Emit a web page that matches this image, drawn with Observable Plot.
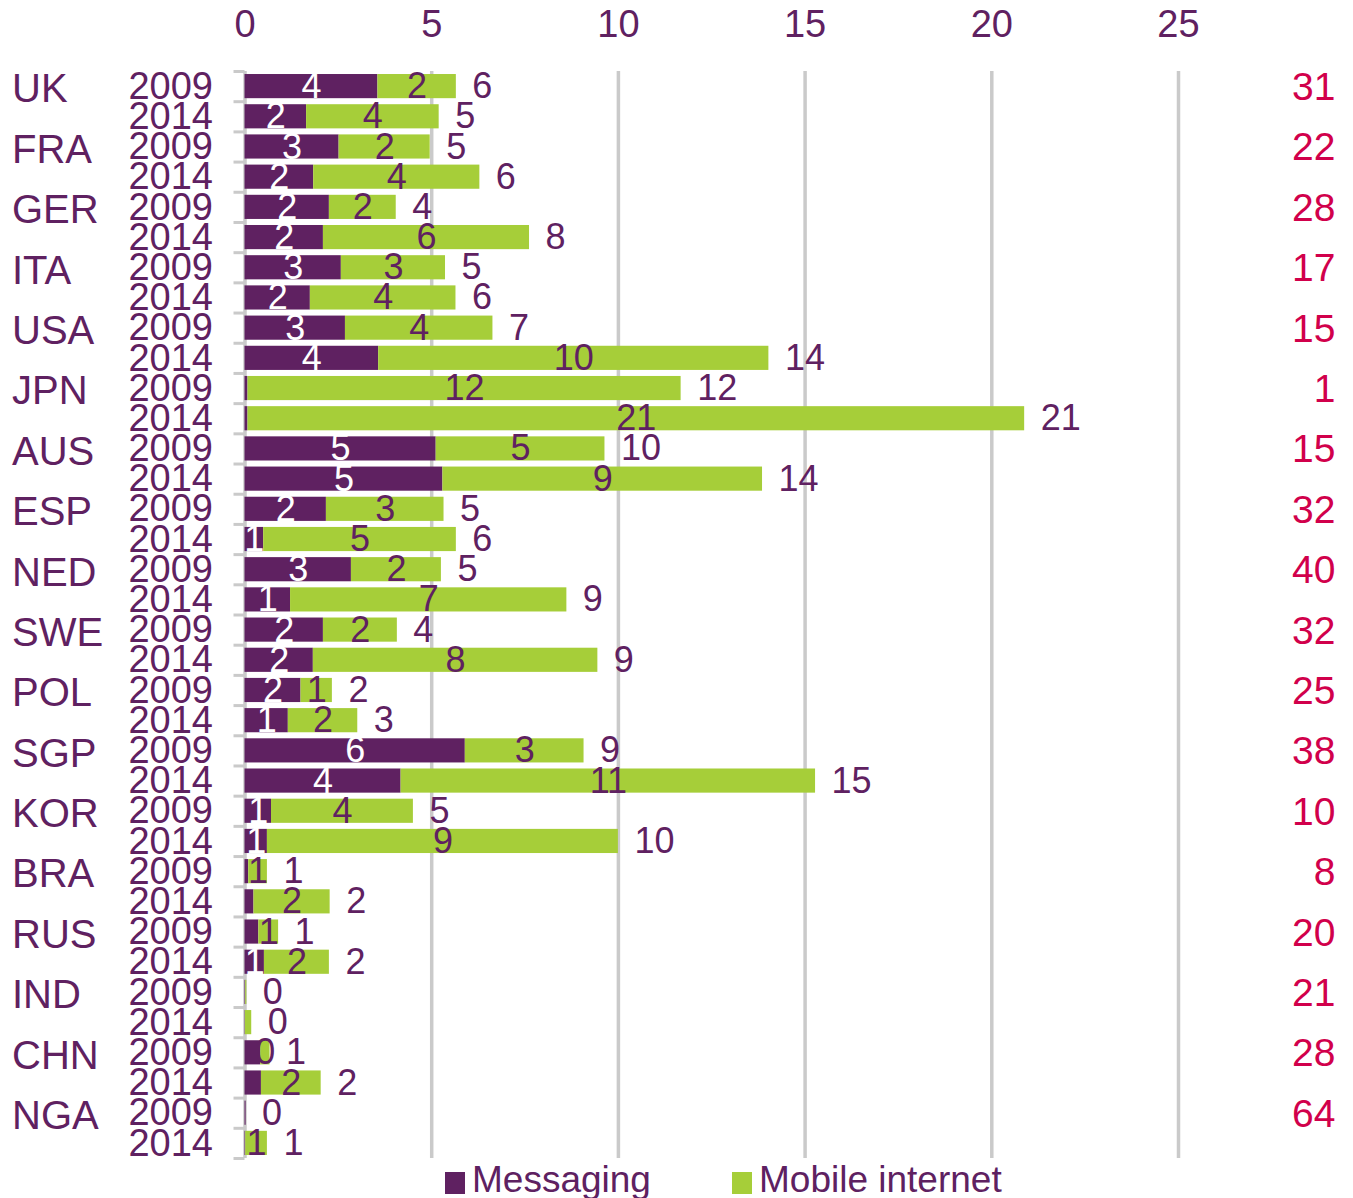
<!DOCTYPE html>
<html>
<head>
<meta charset="utf-8">
<script src="https://cdn.jsdelivr.net/npm/d3@7"></script>
<script src="https://cdn.jsdelivr.net/npm/@observablehq/plot@0.6"></script>
<style>
  html, body { margin: 0; padding: 0; background: #fff; }
  #wrap { position: relative; width: 1353px; font-family: "Liberation Sans", Arial, sans-serif; color: #5E2161; }
  #legend { position: relative; height: 36px; width: 1353px; }
  .lg { position: absolute; top: 0; display: flex; align-items: center; font-size: 37px; line-height: 36px; height: 36px; white-space: nowrap; }
  .sw { width: 20px; height: 22px; margin-right: 7px; margin-top: 6px; }
</style>
</head>
<body>
<div id="wrap">
  <div id="chart"></div>
  <div id="legend"></div>
</div>
<script>
// ---- data ----
const countries = ["UK","FRA","GER","ITA","USA","JPN","AUS","ESP","NED","SWE","POL","SGP","KOR","BRA","RUS","IND","CHN","NGA"];
const years = ["2009","2014"];
const seriesNames = ["Messaging","Mobile internet"];
const messaging2009 = [3.56, 2.52, 2.26, 2.58, 2.69, 0.08, 5.12, 2.18, 2.85, 2.10, 1.50, 5.90, 0.71, 0.10, 0.37, 0.02, 0.42, 0.03];
const mobile2009    = [2.10, 2.44, 1.79, 2.79, 3.95, 11.6, 4.52, 3.15, 2.41, 1.98, 0.84, 3.18, 3.80, 0.50, 0.53, 0.03, 0.25, 0.00];
const messaging2014 = [1.65, 1.84, 2.10, 1.75, 3.58, 0.08, 5.30, 0.50, 1.22, 1.83, 1.16, 4.18, 0.60, 0.24, 0.52, 0.01, 0.44, 0.02];
const mobile2014    = [3.55, 4.45, 5.52, 3.90, 10.45, 20.8, 8.56, 5.16, 7.40, 7.62, 1.86, 11.1, 9.40, 2.04, 1.74, 0.17, 1.60, 0.58];
const rightValues   = [31, 22, 28, 17, 15, 1, 15, 32, 40, 32, 25, 38, 10, 8, 20, 21, 28, 64];
const xTicks = [0, 5, 10, 15, 20, 25];

// ---- styling ----
const purple = "#5F2161";
const green = "#A6CE39";
const red = "#D1004B";
const gridColor = "#CACACA";
const W = 1353, H = 1162, MT = 71, MB = 4, ML = 244.5, MR = 175;

// ---- build tables ----
const rows = [];
countries.forEach((c, i) => {
  rows.push({country: c, year: years[0], key: c + " " + years[0], m: messaging2009[i], g: mobile2009[i]});
  rows.push({country: c, year: years[1], key: c + " " + years[1], m: messaging2014[i], g: mobile2014[i]});
});
rows.forEach(r => r.total = r.m + r.g);
const long = rows.flatMap(r => [
  {key: r.key, series: seriesNames[0], value: r.m},
  {key: r.key, series: seriesNames[1], value: r.g}
]);
const countryRows = countries.map((c, i) => ({country: c, key: c + " " + years[0], right: rightValues[i]}));

const pIn = 0.2, pOut = 0.1;
const step = (H - MT - MB) / (rows.length - pIn + 2 * pOut);

const segLabel = d => {
  const show = d.series === seriesNames[0] ? d.value >= 0.5 : d.value >= 0.2;
  return show ? String(Math.round(d.value)) : null;
};

const chart = Plot.plot({
  width: W, height: H,
  marginTop: MT, marginBottom: MB, marginLeft: ML, marginRight: MR,
  style: {background: "#fff", color: purple, fontFamily: "Liberation Sans, Arial, sans-serif", overflow: "visible"},
  x: {domain: [0, 25]},
  y: {domain: rows.map(r => r.key), paddingInner: pIn, paddingOuter: pOut, round: false, axis: null},
  color: {domain: seriesNames, range: [purple, green]},
  marks: [
    Plot.ruleX(xTicks, {x: d => d, stroke: gridColor, strokeWidth: 3.5}),
    Plot.ruleY(rows, {y: "key", x1: 0, x2: 0, insetLeft: -11, dy: -step / 2, stroke: gridColor, strokeWidth: 3}),
    Plot.ruleY(rows.slice(-1), {y: "key", x1: 0, x2: 0, insetLeft: -11, dy: step / 2, stroke: gridColor, strokeWidth: 3}),
    Plot.axisX({anchor: "top", ticks: xTicks, tickSize: 0, tickPadding: 35, fontSize: 38, tickFormat: d => String(d)}),
    Plot.barX(long, {x: "value", y: "key", fill: "series", z: "series"}),
    Plot.text(long, Plot.stackX({
      x: "value", y: "key", z: "series",
      text: segLabel,
      fill: d => d.series === seriesNames[0] ? "#fff" : purple,
      fontSize: 36
    })),
    Plot.text(rows, {x: "total", y: "key", text: d => String(Math.round(d.total)), textAnchor: "start", dx: 16, fontSize: 36, fill: purple}),
    Plot.text(rows, {y: "key", text: "year", frameAnchor: "left", dx: -32, textAnchor: "end", fontSize: 38, fill: purple}),
    Plot.text(countryRows, {y: "key", text: "country", frameAnchor: "left", dx: -233, dy: 3, textAnchor: "start", fontSize: 40, fill: purple}),
    Plot.text(countryRows, {y: "key", text: d => String(d.right), frameAnchor: "right", dx: 157, dy: 1, textAnchor: "end", fontSize: 39, fill: red})
  ]
});
document.getElementById("chart").appendChild(chart);

// ---- legend ----
const legend = document.getElementById("legend");
const legendPos = [445, 732];
seriesNames.forEach((s, i) => {
  const item = document.createElement("div");
  item.className = "lg";
  item.style.left = legendPos[i] + "px";
  const sw = document.createElement("div");
  sw.className = "sw";
  sw.style.background = i === 0 ? purple : green;
  const t = document.createElement("span");
  t.textContent = s;
  item.appendChild(sw);
  item.appendChild(t);
  legend.appendChild(item);
});
</script>
</body>
</html>
